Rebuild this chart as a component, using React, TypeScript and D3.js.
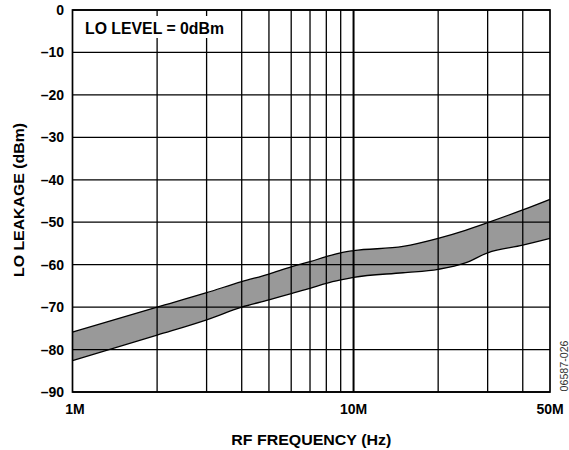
import React from "react";
import * as d3 from "d3";

const freqMHz = [1, 2, 3, 4, 5, 6, 7, 8, 9, 10, 15, 20, 25, 30, 40, 50];
const upperDbm = [-75.9, -70.0, -66.6, -64.0, -62.2, -60.5, -59.3, -58.1, -57.2, -56.7, -55.7, -53.8, -51.9, -50.1, -47.1, -44.6];
const lowerDbm = [-82.6, -76.6, -73.0, -70.0, -68.3, -66.8, -65.6, -64.4, -63.6, -63.0, -61.9, -61.1, -59.6, -57.2, -55.4, -53.8];
const xGrid = [2, 3, 4, 5, 6, 7, 8, 9, 10, 20, 30, 40];
const xTickLabels = [
  { v: 1, t: "1M" },
  { v: 10, t: "10M" },
  { v: 50, t: "50M" },
];
const yTicks = [0, -10, -20, -30, -40, -50, -60, -70, -80, -90];

const W = 569;
const H = 450;
const L = 72.5;
const R = 550;
const T = 10;
const B = 392;

export default function App() {
  const x = d3.scaleLog().domain([1, 50]).range([L, R]);
  const y = d3.scaleLinear().domain([-90, 0]).range([B, T]);
  const band = d3
    .area<number>()
    .x((_, i) => x(freqMHz[i]))
    .y0((_, i) => y(lowerDbm[i]))
    .y1((_, i) => y(upperDbm[i]))
    .curve(d3.curveMonotoneX);
  const edge = d3
    .line<number>()
    .x((_, i) => x(freqMHz[i]))
    .y((d) => y(d))
    .curve(d3.curveMonotoneX);
  const font = "Liberation Sans, Arial, sans-serif";
  return (
    <div style={{ position: "fixed", left: 0, top: 0 }}>
      <svg width={W} height={H} style={{ display: "block", background: "#fff" }} fontFamily={font}>
        <path d={band(freqMHz) || ""} fill="#999999" stroke="none" />
        <path d={edge(upperDbm) || ""} fill="none" stroke="#000" strokeWidth={1.3} />
        <path d={edge(lowerDbm) || ""} fill="none" stroke="#000" strokeWidth={1.3} />
        {yTicks.map((v) => (
          <line key={"h" + v} x1={L} x2={R} y1={y(v)} y2={y(v)} stroke="#000" strokeWidth={1.3} />
        ))}
        {xGrid.map((v) => (
          <line
            key={"v" + v}
            x1={x(v)}
            x2={x(v)}
            y1={T}
            y2={B}
            stroke="#000"
            strokeWidth={v === 10 ? 2 : 1.3}
          />
        ))}
        <rect x={L} y={T} width={R - L} height={B - T} fill="none" stroke="#000" strokeWidth={1.7} />
        <rect x={80} y={16} width={150} height={22} fill="#fff" />
        <text x={85} y={33.5} fontSize={16} fontWeight="bold" textLength={139} lengthAdjust="spacingAndGlyphs">
          LO LEVEL = 0dBm
        </text>
        {yTicks.map((v) => (
          <text
            key={"yl" + v}
            x={64}
            y={y(v)}
            dy="0.36em"
            textAnchor="end"
            fontSize={14}
            fontWeight="bold"
          >
            {v === 0 ? "0" : "\u2013" + Math.abs(v)}
          </text>
        ))}
        {xTickLabels.map((d) => (
          <text
            key={"xl" + d.t}
            x={x(d.v) + (d.v === 1 ? 2.5 : 0)}
            y={414}
            textAnchor="middle"
            fontSize={14}
            fontWeight="bold"
          >
            {d.t}
          </text>
        ))}
        <text
          x={(L + R) / 2}
          y={444.5}
          textAnchor="middle"
          fontSize={15}
          fontWeight="bold"
          textLength={160}
          lengthAdjust="spacingAndGlyphs"
        >
          RF FREQUENCY (Hz)
        </text>
        <text
          transform={`translate(23.5,200) rotate(-90)`}
          textAnchor="middle"
          fontSize={14}
          fontWeight="bold"
          textLength={154}
          lengthAdjust="spacingAndGlyphs"
        >
          LO LEAKAGE (dBm)
        </text>
        <text
          transform={`translate(568,366) rotate(-90)`}
          textAnchor="middle"
          fontSize={10}
          fill="#333"
          textLength={51}
          lengthAdjust="spacingAndGlyphs"
        >
          06587-026
        </text>
      </svg>
    </div>
  );
}
